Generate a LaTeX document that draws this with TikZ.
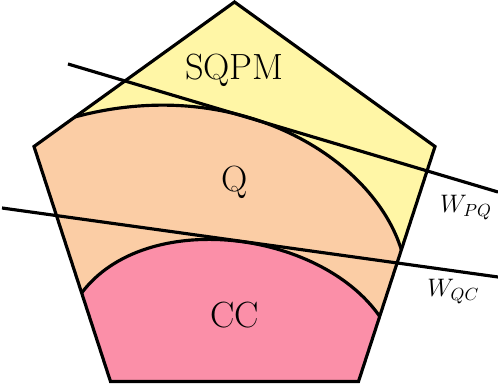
\documentclass[tikz,border=0pt]{standalone}
\definecolor{sqpmfill}{RGB}{255,246,166}
\definecolor{qfill}{RGB}{251,205,165}
\definecolor{ccfill}{RGB}{251,143,168}
\begin{document}
\begin{tikzpicture}[x=0.02cm,y=-0.02cm,
  stroke/.style={draw=black, line width=1.8pt},
  region/.style={font=\fontsize{20.74}{25}\selectfont, anchor=base, inner sep=0pt},
  wlabel/.style={font=\fontsize{14.4}{18}\selectfont, anchor=base, inner sep=0pt}]
\useasboundingbox (0,0) rectangle (498,385);
% pentagon vertices
\coordinate (T) at (234.5,2);
\coordinate (L) at (34,146.5);
\coordinate (R) at (435,146.5);
\coordinate (BL) at (110.5,381.5);
\coordinate (BR) at (358.5,381.5);
% curve end points on the pentagon edges
\coordinate (qa) at (74.7,117);
\coordinate (qb) at (401.4,250);
\coordinate (ca) at (81.6,293);
\coordinate (cb) at (379.8,316.5);
% fills
\fill[sqpmfill] (T) -- (R) -- (BR) -- (BL) -- (L) -- cycle;
\fill[qfill] (qa) .. controls (238.7,73) and (373.7,159) .. (qb) -- (BR) -- (BL) -- (L) -- cycle;
\fill[ccfill] (ca) .. controls (145.2,208.2) and (319.7,230) .. (cb) -- (BR) -- (BL) -- cycle;
% boundaries
\draw[stroke] (qa) .. controls (238.7,73) and (373.7,159) .. (qb);
\draw[stroke] (ca) .. controls (145.2,208.2) and (319.7,230) .. (cb);
\draw[stroke, line join=miter] (T) -- (R) -- (BR) -- (BL) -- (L) -- cycle;
% witness lines
\coordinate (wpqa) at (68,64);
\coordinate (wpqb) at (498,192);
\coordinate (wqca) at (2,208);
\coordinate (wqcb) at (498,277);
\draw[stroke] (wpqa) -- (wpqb);
\draw[stroke] (wqca) -- (wqcb);
% labels
\node[region] (sqpm) at (234.5,79.7) {SQPM};
\node[region] (q) at (234.5,191.3) {Q};
\node[region] (cc) at (234.5,327.8) {CC};
\node[wlabel] (lpq) at (466,212.5) {$W_{PQ}$};
\node[wlabel] (lqc) at (453.3,296.5) {$W_{QC}$};
\end{tikzpicture}
\end{document}
